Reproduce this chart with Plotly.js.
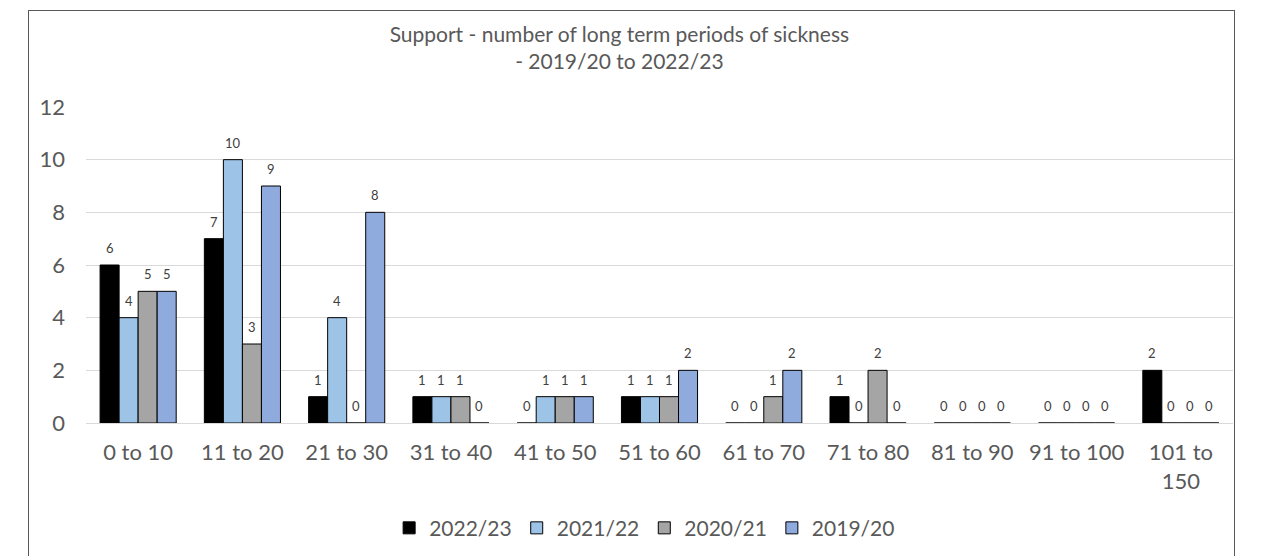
<!DOCTYPE html>
<html>
<head>
<meta charset="utf-8">
<script src="https://cdn.plot.ly/plotly-3.0.1.min.js"></script>
<style>
html,body{margin:0;padding:0;background:#fff;}
#frame{position:absolute;left:28px;top:10px;width:1207px;height:560px;border:1.5px solid #595959;box-sizing:border-box;}
#chart{position:absolute;left:0;top:0;width:1264px;height:556px;}
</style>
</head>
<body>
<div id="frame"></div>
<div id="chart"></div>
<script>
const categories = ["0 to 10","11 to 20","21 to 30","31 to 40","41 to 50","51 to 60","61 to 70","71 to 80","81 to 90","91 to 100","101 to<br>150"];
const seriesNames = ["2022/23","2021/22","2020/21","2019/20"];
const v2022_23 = [6,7,1,1,0,1,0,1,0,0,2];
const v2021_22 = [4,10,4,1,1,1,0,0,0,0,0];
const v2020_21 = [5,3,0,1,1,1,1,2,0,0,0];
const v2019_20 = [5,9,8,0,1,2,2,0,0,0,0];
const colors = ["#000000","#9DC3E6","#A5A5A5","#8FAADC"];
const allValues = [v2022_23, v2021_22, v2020_21, v2019_20];

const FONT = "Lato, 'Open Sans', sans-serif";
const W = 1264, H = 556;
const margin = {l: 86, r: 31, t: 107, b: 133, autoexpand: false};
const bargap = 0.27;

const traces = allValues.map((vals, i) => ({
  type: 'bar',
  name: seriesNames[i],
  x: categories,
  y: vals,
  marker: {color: colors[i], line: {color: '#000000', width: 1}},
  hoverinfo: 'x+y+name'
}));

// data labels placed through the axes: x = category, y = value; horizontal shift = bar slot within group
const catWidthPx = (W - margin.l - margin.r) / categories.length;
const barWidthPx = catWidthPx * (1 - bargap) / allValues.length;
const annotations = [];
allValues.forEach((vals, i) => {
  vals.forEach((v, j) => {
    annotations.push({
      x: categories[j], y: v, xref: 'x', yref: 'y',
      text: String(v), showarrow: false,
      xanchor: 'center', yanchor: 'bottom',
      xshift: (i - (allValues.length - 1) / 2) * barWidthPx,
      yshift: 7,
      font: {size: 13, color: '#404040', family: FONT}
    });
  });
});

const layout = {
  width: W, height: H,
  paper_bgcolor: 'rgba(0,0,0,0)',
  plot_bgcolor: 'rgba(0,0,0,0)',
  margin: margin,
  font: {family: FONT, color: '#595959'},
  title: {
    text: 'Support - number of long term periods of sickness<br>- 2019/20 to 2022/23',
    font: {size: 21, color: '#595959', family: FONT},
    x: 0.49, xanchor: 'center', xref: 'container',
    yref: 'container', y: 0.925, yanchor: 'top'
  },
  barmode: 'group',
  bargap: bargap,
  bargroupgap: 0,
  xaxis: {
    type: 'category',
    automargin: false,
    tickfont: {size: 22, color: '#595959', family: FONT},
    showline: true, linecolor: '#D9D9D9', linewidth: 1,
    ticks: '', showgrid: false,
    ticklabelstandoff: 10
  },
  yaxis: {
    range: [0, 12],
    dtick: 2,
    automargin: false,
    tickfont: {size: 22, color: '#595959', family: FONT},
    gridcolor: '#D9D9D9', gridwidth: 1,
    zeroline: false, showline: false, ticks: '',
    ticklabelstandoff: 20
  },
  legend: {
    orientation: 'h',
    x: 0.51, xanchor: 'center', xref: 'container',
    y: 0.05, yanchor: 'middle', yref: 'container',
    font: {size: 21, color: '#595959', family: FONT},
    traceorder: 'normal',
    itemwidth: 30
  },
  annotations: annotations,
  showlegend: true
};

Plotly.newPlot('chart', traces, layout, {displayModeBar: false, staticPlot: true});
</script>
</body>
</html>
